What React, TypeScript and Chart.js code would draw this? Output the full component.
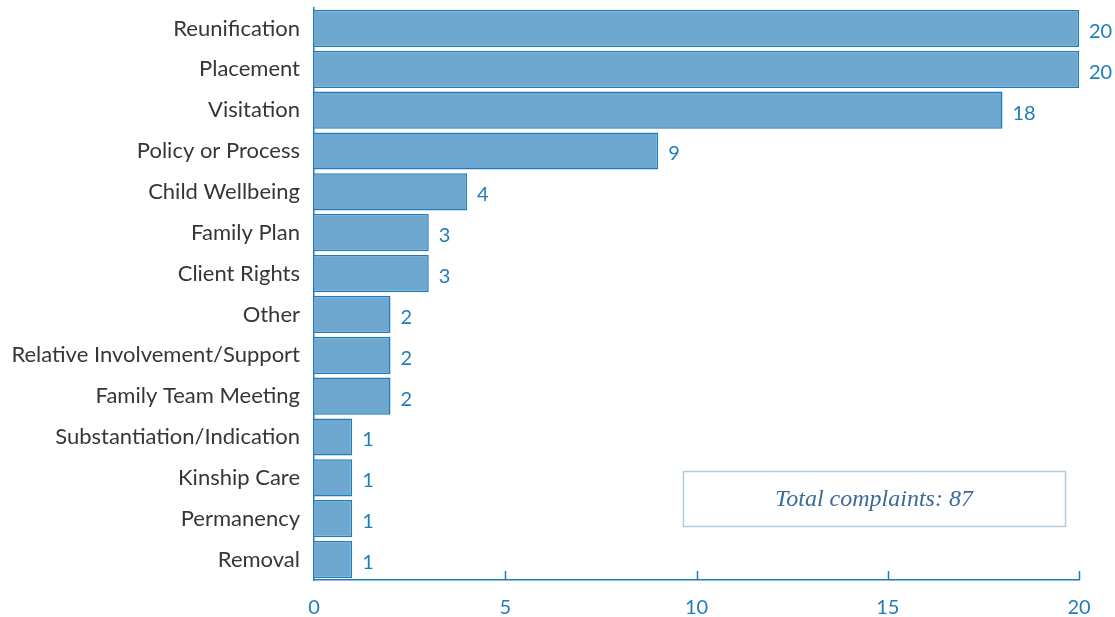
import React, { useEffect, useRef } from "react";
import { Chart, registerables } from "chart.js";

Chart.register(...registerables);

const categories = [
  "Reunification",
  "Placement",
  "Visitation",
  "Policy or Process",
  "Child Wellbeing",
  "Family Plan",
  "Client Rights",
  "Other",
  "Relative Involvement/Support",
  "Family Team Meeting",
  "Substantiation/Indication",
  "Kinship Care",
  "Permanency",
  "Removal",
];
const complaints = [20, 20, 18, 9, 4, 3, 3, 2, 2, 2, 1, 1, 1, 1];
const xTicks = [0, 5, 10, 15, 20];
const totalLabel = "Total complaints: 87";

const BLUE = "#1f7db9";
const FILL = "#6ea8d0";
const FONT = "Lato, 'Open Sans', sans-serif";

export default function App() {
  const ref = useRef<HTMLCanvasElement | null>(null);

  useEffect(() => {
    document.body.style.margin = "0";
    const canvas = ref.current!;
    const extras = {
      id: "extras",
      afterDatasetsDraw(chart: any) {
        const ctx = chart.ctx;
        const meta = chart.getDatasetMeta(0);
        ctx.save();
        ctx.fillStyle = BLUE;
        ctx.font = `20px ${FONT}`;
        ctx.textAlign = "left";
        ctx.textBaseline = "middle";
        meta.data.forEach((bar: any, i: number) => {
          ctx.fillText(String(complaints[i]), bar.x + 10, bar.y + 3);
        });
        // tick marks pointing up from bottom axis
        const xs = chart.scales.x;
        const ca = chart.chartArea;
        ctx.strokeStyle = BLUE;
        ctx.lineWidth = 1.5;
        xTicks.forEach((v) => {
          if (v === 0) return;
          const px = Math.round(xs.getPixelForValue(v)) + 0.5;
          ctx.beginPath();
          ctx.moveTo(px, ca.bottom);
          ctx.lineTo(px, ca.bottom - 9);
          ctx.stroke();
        });
        // total box
        const bx = xs.getPixelForValue(0) + 369;
        const by = ca.bottom - 109;
        const bw = 382;
        const bh = 55;
        ctx.strokeStyle = "#b3c9dc";
        ctx.lineWidth = 1.5;
        ctx.strokeRect(bx + 0.5, by + 0.5, bw, bh);
        ctx.fillStyle = "#3b6a99";
        ctx.font = "italic 24px 'Liberation Serif', 'DejaVu Serif', serif";
        ctx.textAlign = "center";
        ctx.textBaseline = "middle";
        ctx.fillText(totalLabel, bx + bw / 2, by + bh / 2 + 1);
        ctx.restore();
      },
    };

    const chart = new Chart(canvas, {
      type: "bar",
      data: {
        labels: categories,
        datasets: [
          {
            data: complaints,
            backgroundColor: FILL,
            borderColor: BLUE,
            borderWidth: 1.5,
            barPercentage: 0.91,
            categoryPercentage: 1,
          },
        ],
      },
      options: {
        indexAxis: "y",
        animation: false,
        responsive: false,
        maintainAspectRatio: false,
        layout: { padding: { top: 8, right: 36, left: 0, bottom: 0 } },
        plugins: {
          legend: { display: false },
          tooltip: { enabled: false },
        },
        scales: {
          x: {
            min: 0,
            max: 20,
            afterBuildTicks(scale: any) {
              scale.ticks = xTicks.map((v) => ({ value: v }));
            },
            afterFit(scale: any) {
              scale.height = 37;
            },
            grid: { display: false, drawTicks: false },
            border: { display: true, color: BLUE, width: 1.5 },
            ticks: {
              color: BLUE,
              font: { family: FONT, size: 20 },
              padding: 16,
              maxRotation: 0,
            },
          },
          y: {
            afterFit(scale: any) {
              scale.width = 314;
              scale.paddingTop = 0;
              scale.paddingBottom = 0;
            },
            grid: { display: false, drawTicks: false },
            border: { display: true, color: BLUE, width: 1.5 },
            ticks: {
              color: "#363636",
              font: { family: FONT, size: 22 },
              padding: 14,
              autoSkip: false,
            },
          },
        },
      },
      plugins: [extras],
    });
    return () => chart.destroy();
  }, []);

  return (
    <div style={{ position: "fixed", left: 0, top: 0, width: 1115, height: 617 }}>
      <canvas ref={ref} width={1115} height={617} style={{ display: "block" }} />
    </div>
  );
}
